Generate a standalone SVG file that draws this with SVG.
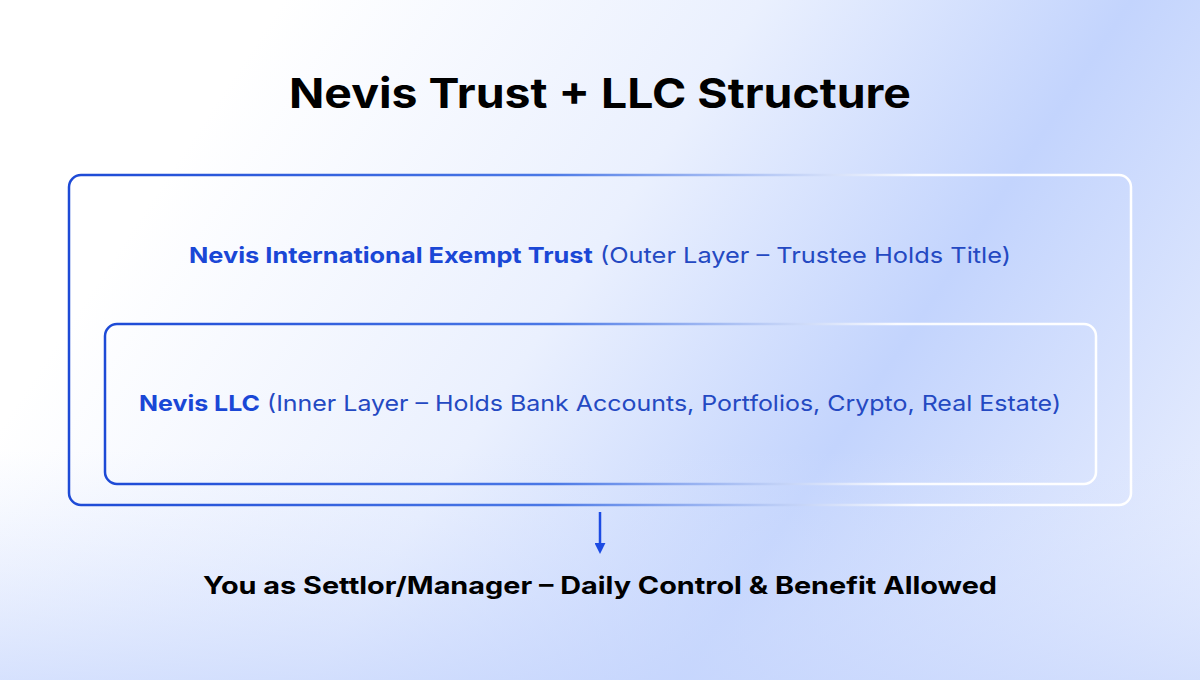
<svg xmlns="http://www.w3.org/2000/svg" width="1200" height="680" viewBox="0 0 1200 680">
  <defs>
    <linearGradient id="bg" gradientUnits="userSpaceOnUse" x1="250" y1="50" x2="1200" y2="680">
      <stop offset="0" stop-color="#ffffff"/>
      <stop offset="0.35" stop-color="#eaf0fe"/>
      <stop offset="0.62" stop-color="#c3d4fd"/>
      <stop offset="1" stop-color="#eef2fe"/>
    </linearGradient>
    <linearGradient id="bg2" gradientUnits="userSpaceOnUse" x1="0" y1="450" x2="0" y2="680">
      <stop offset="0" stop-color="#dbe5fe" stop-opacity="0"/>
      <stop offset="1" stop-color="#c8d7fd" stop-opacity="0.7"/>
    </linearGradient>
    <linearGradient id="strokeOuter" gradientUnits="userSpaceOnUse" x1="69" y1="0" x2="1131" y2="0">
      <stop offset="0" stop-color="#1d4ad6"/>
      <stop offset="0.45" stop-color="#4a78e6"/>
      <stop offset="0.8" stop-color="#ffffff" stop-opacity="0.9"/>
      <stop offset="1" stop-color="#ffffff"/>
    </linearGradient>
    <linearGradient id="strokeInner" gradientUnits="userSpaceOnUse" x1="105" y1="0" x2="1096" y2="0">
      <stop offset="0" stop-color="#1d4ad6"/>
      <stop offset="0.45" stop-color="#4a78e6"/>
      <stop offset="0.8" stop-color="#ffffff" stop-opacity="0.9"/>
      <stop offset="1" stop-color="#ffffff"/>
    </linearGradient>
    <marker id="arrow" viewBox="0 0 10 10" refX="1" refY="5" markerWidth="4.4" markerHeight="4.4" orient="auto">
      <path d="M0,0 L10,5 L0,10 z" fill="#1c4be3"/>
    </marker>
    <style>
      .title { font-family: Inter, "Liberation Sans", sans-serif; font-weight: 700; font-size: 41px; fill: #000; }
      .lbl { font-family: Inter, "Liberation Sans", sans-serif; font-size: 22px; }
      .strong { font-weight: 700; fill: #1a47d6; }
      .soft { font-weight: 400; fill: #2449c2; }
      .foot { font-family: Inter, "Liberation Sans", sans-serif; font-weight: 700; font-size: 24px; fill: #000; }
      .box { fill: none; stroke-width: 2.5; }
    </style>
  </defs>
  <rect width="1200" height="680" fill="url(#bg)"/>
  <rect width="1200" height="680" fill="url(#bg2)"/>

  <text class="title" x="600" y="108" text-anchor="middle" textLength="622" lengthAdjust="spacingAndGlyphs">Nevis Trust + LLC Structure</text>

  <g id="trust">
    <rect class="box" x="69" y="175" width="1062" height="330" rx="12" stroke="url(#strokeOuter)"/>
    <text class="lbl" x="600" y="263" text-anchor="middle" textLength="822" lengthAdjust="spacingAndGlyphs"><tspan class="strong">Nevis International Exempt Trust</tspan><tspan class="soft"> (Outer Layer – Trustee Holds Title)</tspan></text>
  </g>

  <g id="llc">
    <rect class="box" x="105" y="324" width="991" height="160" rx="12" stroke="url(#strokeInner)"/>
    <text class="lbl" x="600" y="411" text-anchor="middle" textLength="922" lengthAdjust="spacingAndGlyphs"><tspan class="strong">Nevis LLC</tspan><tspan class="soft"> (Inner Layer – Holds Bank Accounts, Portfolios, Crypto, Real Estate)</tspan></text>
  </g>

  <g id="connectors">
    <line x1="600" y1="512" x2="600" y2="544" stroke="#1c4be3" stroke-width="2.5" marker-end="url(#arrow)"/>
  </g>

  <g id="settlor">
    <text class="foot" x="600" y="594" text-anchor="middle" textLength="794" lengthAdjust="spacingAndGlyphs">You as Settlor/Manager – Daily Control &amp; Benefit Allowed</text>
  </g>
</svg>
